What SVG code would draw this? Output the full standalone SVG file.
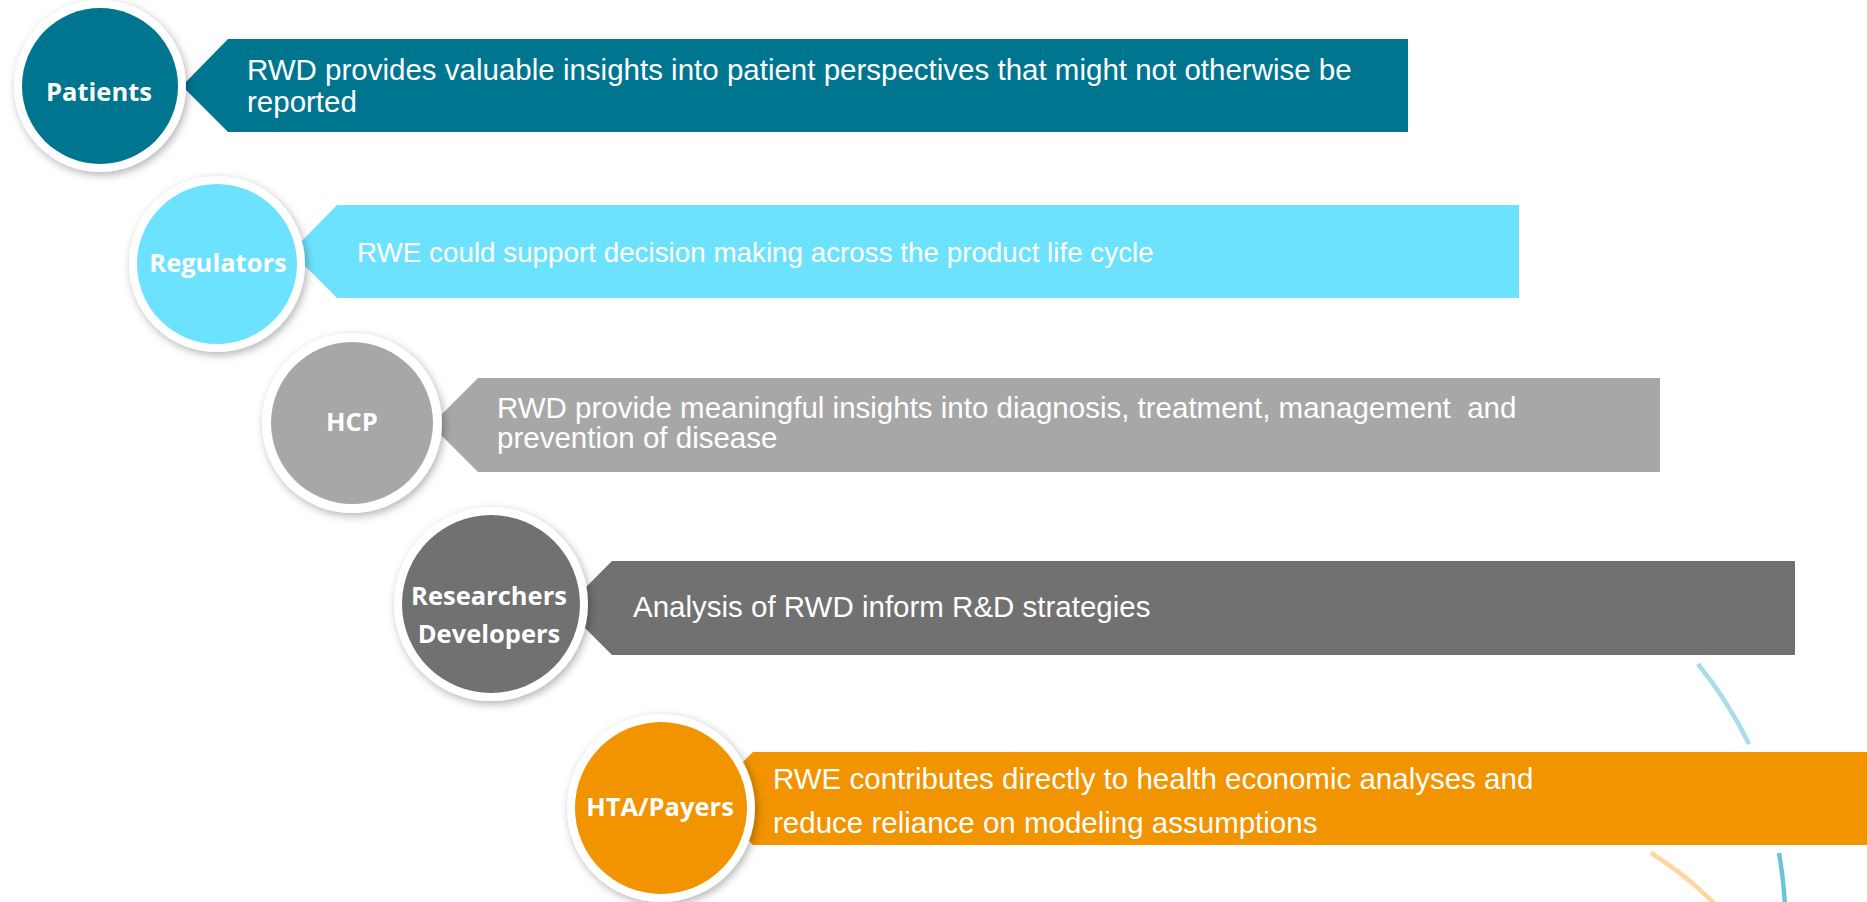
<svg xmlns="http://www.w3.org/2000/svg" width="1867" height="902" viewBox="0 0 1867 902">
<defs>
<filter id="sh" x="-20%" y="-20%" width="140%" height="140%">
<feDropShadow dx="2" dy="3" stdDeviation="4" flood-color="#000" flood-opacity="0.3"/>
</filter>
<style>
.ring{fill:#fff;filter:url(#sh)}
.lbl{font-family:"Open Sans","Liberation Sans",sans-serif;font-weight:700;font-size:25.5px;fill:#fff;text-anchor:middle}
.txt{font-family:"Liberation Sans",Arial,sans-serif;font-size:29.5px;fill:#fff;white-space:pre}
.arc{fill:none;stroke-width:4.5;stroke-linecap:butt}
</style>
</defs>
<rect width="1867" height="902" fill="#fff"/>

<g id="connectors">
<path class="arc" d="M1698,664 A420,420 0 0 1 1749,744" stroke="#a9dde9"/>
<path class="arc" d="M1779,853 A420,420 0 0 1 1785,905" stroke="#6cc4d7"/>
<path class="arc" d="M1651,853 Q1685,874 1716,905" stroke="#ffd69e" stroke-width="5"/>
</g>

<g id="patients">
<polygon points="182,86 228,39 1408,39 1408,132 228,132" fill="#00758f"/>
<text class="txt" x="247" y="80">RWD provides valuable insights into patient perspectives that might not otherwise be</text>
<text class="txt" x="247" y="112">reported</text>
<circle class="ring" cx="100" cy="86" r="86"/>
<circle cx="100" cy="86" r="78" fill="#00758f"/>
<text class="lbl" x="99" y="101">Patients</text>
</g>

<g id="regulators">
<polygon points="291,252 337,205 1519,205 1519,298 337,298" fill="#6de2fe"/>
<text class="txt" x="357" y="262" style="font-size:27.8px">RWE could support decision making across the product life cycle</text>
<circle class="ring" cx="217" cy="264" r="88"/>
<circle cx="217" cy="264" r="80" fill="#6de2fe"/>
<text class="lbl" x="218" y="272">Regulators</text>
</g>

<g id="hcp">
<polygon points="431,425 478,378 1660,378 1660,472 478,472" fill="#a7a7a7"/>
<text class="txt" x="497" y="418">RWD provide meaningful insights into diagnosis, treatment, management  and</text>
<text class="txt" x="497" y="448">prevention of disease</text>
<circle class="ring" cx="352" cy="423" r="90"/>
<circle cx="352" cy="423" r="81" fill="#a7a7a7"/>
<text class="lbl" x="352" y="431">HCP</text>
</g>

<g id="researchers">
<polygon points="565,608 612,561 1795,561 1795,655 612,655" fill="#717171"/>
<text class="txt" x="633" y="617">Analysis of RWD inform R&amp;D strategies</text>
<circle class="ring" cx="491" cy="604" r="97"/>
<circle cx="491" cy="604" r="89" fill="#717171"/>
<text class="lbl" x="489" y="605">Researchers</text>
<text class="lbl" x="489" y="643">Developers</text>
</g>

<g id="hta">
<polygon points="706,798 753,752 1867,752 1867,845 753,845" fill="#f29300"/>
<text class="txt" x="773" y="789">RWE contributes directly to health economic analyses and</text>
<text class="txt" x="773" y="833">reduce reliance on modeling assumptions</text>
<circle class="ring" cx="661" cy="808" r="94"/>
<circle cx="661" cy="808" r="86" fill="#f29300"/>
<text class="lbl" x="660" y="816">HTA/Payers</text>
</g>
</svg>
